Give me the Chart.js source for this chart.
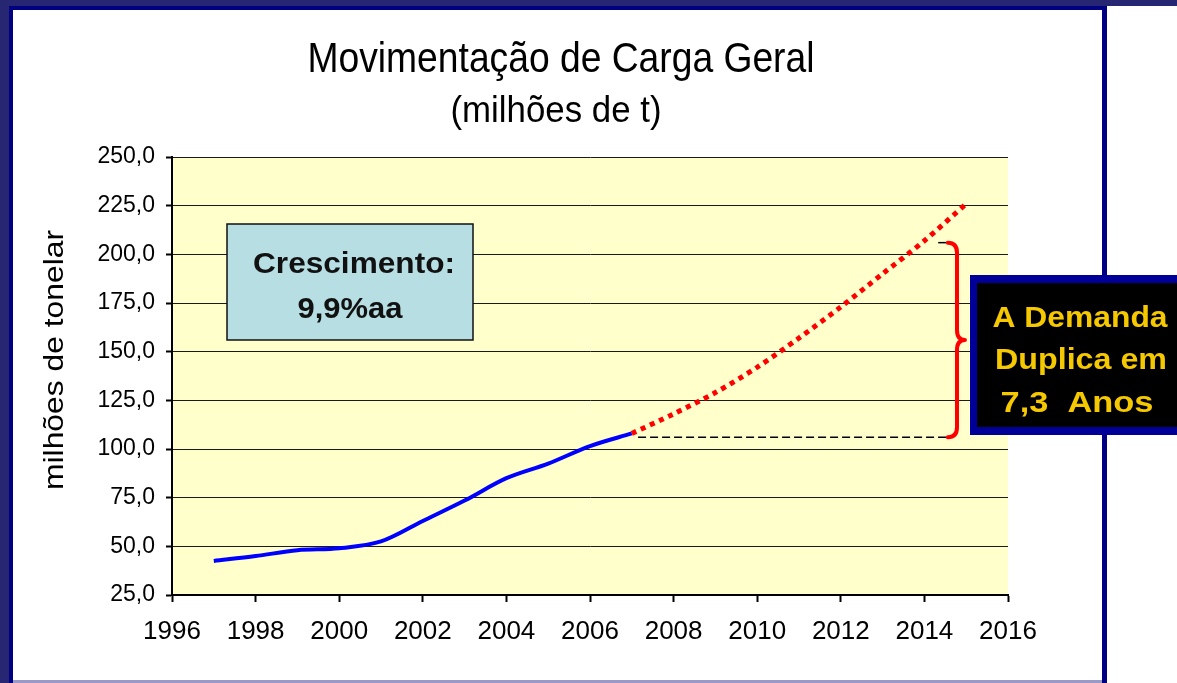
<!DOCTYPE html>
<html>
<head>
<meta charset="utf-8">
<script src="https://cdn.jsdelivr.net/npm/chart.js@4.4.1/dist/chart.umd.min.js"></script>
<style>
  html, body { margin: 0; padding: 0; background: #fff; }
  canvas { display: block; }
</style>
</head>
<body>
<canvas id="c" width="1177" height="683"></canvas>
<script>
// observed movement (milhões de t)
const histYears = [1997, 1998, 1999, 2000, 2001, 2002, 2003, 2004, 2005, 2006, 2007];
const histValues = [42.5, 45, 48, 49, 52.5, 63, 73.5, 85, 92.5, 101.5, 108];
// projection
const projYears = [2007, 2008, 2009, 2010, 2011, 2012, 2013, 2014, 2015];
const projValues = [108, 118, 129, 142, 157, 173, 190, 207, 226];
// doubling reference
const baseLineYears = [2007.15, 2014.54];
const topLineYears = [2014.33, 2014.56];
const baseValue = 106;
const doubleValue = 206;
const yTicks = [25, 50, 75, 100, 125, 150, 175, 200, 225, 250];
const xTicks = [1996, 1998, 2000, 2002, 2004, 2006, 2008, 2010, 2012, 2014, 2016];

const titleText = 'Movimentação de Carga Geral';
const subtitleText = '(milhões de t)';
const yTitleText = 'milhões de tonelar';
const growthLines = ['Crescimento:', '9,9%aa'];
const calloutLines = ['A Demanda', 'Duplica em', '7,3  Anos'];

const pts = (xs, ys) => xs.map((x, i) => ({ x: x, y: Array.isArray(ys) ? ys[i] : ys }));

function fitText(ctx, txt, x, y, font, w, color, rot) {
  ctx.save();
  ctx.font = font;
  const m = ctx.measureText(txt).width;
  ctx.translate(x, y);
  if (rot) ctx.rotate(rot);
  ctx.scale(w / m, 1);
  ctx.textAlign = 'center';
  ctx.textBaseline = 'alphabetic';
  ctx.fillStyle = color;
  ctx.fillText(txt, 0, 0);
  ctx.restore();
}

const decor = {
  id: 'decor',
  beforeDraw(chart) {
    const ctx = chart.ctx, a = chart.chartArea;
    ctx.save();
    ctx.fillStyle = '#fff';
    ctx.fillRect(0, 0, 1177, 683);
    // slide frame
    ctx.fillStyle = '#262673';
    ctx.fillRect(0, 0, 1177, 6);
    ctx.fillRect(0, 0, 9, 683);
    ctx.fillStyle = '#000080';
    ctx.fillRect(9, 6, 1098, 4);
    ctx.fillRect(9, 6, 4, 677);
    ctx.fillRect(1102, 6, 5, 677);
    ctx.fillStyle = '#9a9ac8';
    ctx.fillRect(13, 680, 1089, 3);
    // plot background
    ctx.fillStyle = '#FFFFCC';
    ctx.fillRect(a.left, a.top, a.right - a.left, a.bottom - a.top);
    ctx.restore();

    fitText(ctx, titleText, 561, 72, '42px "Liberation Sans", Arial', 507, '#000');
    fitText(ctx, subtitleText, 556, 122, '37px "Liberation Sans", Arial', 211, '#000');
    fitText(ctx, yTitleText, 63, 360, '27px "Liberation Sans", Arial', 260, '#000', -Math.PI / 2);
  },
  afterDraw(chart) {
    const ctx = chart.ctx;
    const xs = chart.scales.x, ys = chart.scales.y;
    ctx.save();
    // growth box
    ctx.fillStyle = '#B7DEE3';
    ctx.fillRect(227, 224, 246, 116);
    ctx.strokeStyle = '#111';
    ctx.lineWidth = 1.5;
    ctx.strokeRect(227, 224, 246, 116);
    ctx.restore();
    fitText(ctx, growthLines[0], 354, 273, 'bold 29px "Liberation Sans", Arial', 202, '#111');
    fitText(ctx, growthLines[1], 350, 318, 'bold 29px "Liberation Sans", Arial', 105, '#111');

    // brace
    const yTop = ys.getPixelForValue(doubleValue);
    const yBot = ys.getPixelForValue(baseValue);
    const yMid = (yTop + yBot) / 2;
    const xl = xs.getPixelForValue(2014.56);
    const xb = xs.getPixelForValue(2014.78);
    const xt = xs.getPixelForValue(2014.97);
    ctx.save();
    ctx.strokeStyle = '#FF0000';
    ctx.lineWidth = 4;
    ctx.lineCap = 'round';
    ctx.lineJoin = 'round';
    ctx.beginPath();
    ctx.moveTo(xl, yTop);
    ctx.quadraticCurveTo(xb, yTop, xb, yTop + 10);
    ctx.lineTo(xb, yMid - 10);
    ctx.quadraticCurveTo(xb, yMid, xt, yMid);
    ctx.quadraticCurveTo(xb, yMid, xb, yMid + 10);
    ctx.lineTo(xb, yBot - 10);
    ctx.quadraticCurveTo(xb, yBot, xl, yBot);
    ctx.stroke();

    // callout box
    ctx.fillStyle = '#000099';
    ctx.fillRect(970, 275, 220, 160);
    ctx.fillStyle = '#000';
    ctx.fillRect(977, 283, 213, 144);
    ctx.restore();
    fitText(ctx, calloutLines[0], 1080, 327, 'bold 30px "Liberation Sans", Arial', 175, '#F5C800');
    fitText(ctx, calloutLines[1], 1081, 369, 'bold 30px "Liberation Sans", Arial', 172, '#F5C800');
    fitText(ctx, calloutLines[2], 1077, 412, 'bold 30px "Liberation Sans", Arial', 153, '#F5C800');
  }
};

new Chart(document.getElementById('c'), {
  type: 'line',
  data: {
    datasets: [
      {
        data: pts(baseLineYears, baseValue),
        borderColor: '#000', borderWidth: 1.5, borderDash: [8, 4],
        pointRadius: 0, tension: 0
      },
      {
        data: pts(topLineYears, doubleValue),
        borderColor: '#000', borderWidth: 1.5,
        pointRadius: 0, tension: 0
      },
      {
        data: pts(projYears, projValues),
        borderColor: '#FF0000', borderWidth: 5, borderDash: [5, 5],
        borderCapStyle: 'butt', pointRadius: 0, tension: 0.3
      },
      {
        data: pts(histYears, histValues),
        borderColor: '#0000FF', borderWidth: 4,
        pointRadius: 0, cubicInterpolationMode: 'monotone'
      }
    ]
  },
  options: {
    responsive: false,
    animation: false,
    devicePixelRatio: 1,
    layout: { padding: { top: 157, right: 169, bottom: 0, left: 0 } },
    plugins: { legend: { display: false }, tooltip: { enabled: false }, title: { display: false } },
    scales: {
      x: {
        type: 'linear', min: 1996, max: 2016,
        afterFit(s) { s.height = 88; },
        afterBuildTicks(s) { s.ticks = xTicks.map(v => ({ value: v })); },
        grid: { drawOnChartArea: false, drawTicks: true, tickLength: 7, tickWidth: 2, tickColor: '#000' },
        border: { color: '#000', width: 2 },
        ticks: {
          color: '#000', padding: 14, maxRotation: 0, autoSkip: false,
          font: { family: '"Liberation Sans", Arial', size: 26 },
          callback: v => String(v)
        }
      },
      y: {
        min: 25, max: 250,
        afterFit(s) { s.width = 172; },
        afterBuildTicks(s) { s.ticks = yTicks.map(v => ({ value: v })); },
        grid: { color: '#1a1a1a', lineWidth: 1, tickLength: 6, tickWidth: 2, tickColor: '#000' },
        border: { color: '#000', width: 2 },
        ticks: {
          color: '#000', padding: 11,
          font: { family: '"Liberation Sans", Arial', size: 23 },
          callback: v => v.toFixed(1).replace('.', ',')
        }
      }
    }
  },
  plugins: [decor]
});
</script>
</body>
</html>
